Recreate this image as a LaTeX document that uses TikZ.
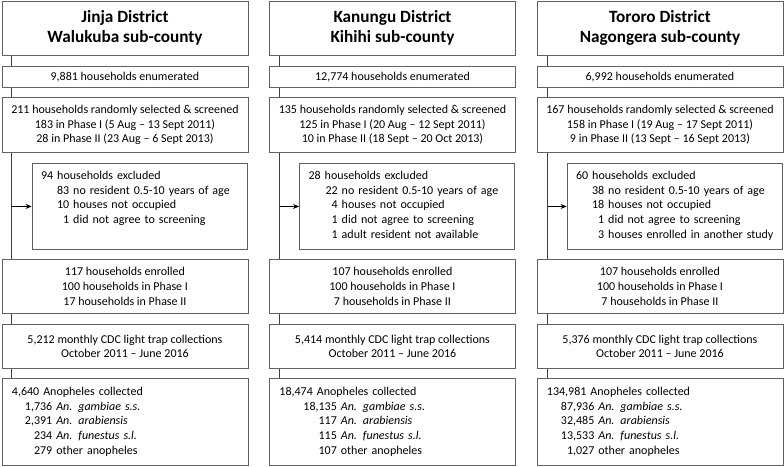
\documentclass[tikz,border=0pt]{standalone}
\usepackage{fontspec}
\setmainfont{Carlito}
\usetikzlibrary{positioning,arrows.meta,backgrounds}
\definecolor{boxLine}{gray}{0.38}

\begin{document}
\begin{tikzpicture}[x=1pt, y=-1pt,
  stepBox/.style={draw=boxLine, fill=white, line width=0.9pt, anchor=north west,
                  minimum width=246pt, inner sep=0pt, align=center,
                  font=\fontsize{12}{14.7}\selectfont},
  titleBox/.style={stepBox, minimum height=54pt,
                   font=\fontsize{17.2}{20}\selectfont\bfseries},
  listBox/.style={stepBox, text width=226pt, align=left, inner xsep=10pt,
                  text height=17pt, text depth=70pt},
  exclBox/.style={listBox, anchor=north east, minimum width=0pt,
                  text width=197pt, inner xsep=9pt, text height=16pt},
  flowLine/.style={draw=black!75, line width=0.9pt},
  >={Stealth[length=6pt, width=5pt]}
]
  \useasboundingbox (0,0) rectangle (784,466);

  % Column 1 -- Jinja
  \node[titleBox] (t1) at (1.5,0.5) {Jinja District\\Walukuba sub-county};
  \node[stepBox, minimum height=21pt] (e1) at (1.5,66) {9,881 households enumerated};
  \node[stepBox, minimum height=55pt] (s1) at (1.5,97)
    {211 households randomly selected \& screened\\
     183 in Phase I (5 Aug -- 13 Sept 2011)\\
     28 in Phase II (23 Aug -- 6 Sept 2013)};
  \node[exclBox] (x1) at (247.5,163) {%
    \begin{tabular}[t]{@{\hspace{16pt}}r@{ }l@{}}
      \multicolumn{2}{@{}l@{}}{94 households excluded}\\
      83 & no resident 0.5-10 years of age\\
      10 & houses not occupied\\
      1 & did not agree to screening
    \end{tabular}};
  \node[stepBox, minimum height=54pt] (r1) at (1.5,259)
    {117 households enrolled\\100 households in Phase I\\17 households in Phase II};
  \node[stepBox, minimum height=44pt] (c1) at (1.5,324)
    {5,212 monthly CDC light trap collections\\October 2011 -- June 2016};
  \node[listBox] (a1) at (1.5,378) {%
    \begin{tabular}[t]{@{\hspace{13pt}}r@{ }l@{}}
      \multicolumn{2}{@{}l@{}}{4,640 Anopheles collected}\\
      1,736 & \textit{An. gambiae s.s.}\\
      2,391 & \textit{An. arabiensis}\\
      234 & \textit{An. funestus s.l.}\\
      279 & other anopheles
    \end{tabular}};

  % Column 2 -- Kanungu
  \node[titleBox] (t2) at (269,0.5) {Kanungu District\\Kihihi sub-county};
  \node[stepBox, minimum height=21pt] (e2) at (269,66) {12,774 households enumerated};
  \node[stepBox, minimum height=55pt] (s2) at (269,97)
    {135 households randomly selected \& screened\\
     125 in Phase I (20 Aug -- 12 Sept 2011)\\
     10 in Phase II (18 Sept -- 20 Oct 2013)};
  \node[exclBox] (x2) at (515,163) {%
    \begin{tabular}[t]{@{\hspace{17pt}}r@{ }l@{}}
      \multicolumn{2}{@{}l@{}}{28 households excluded}\\
      22 & no resident 0.5-10 years of age\\
      4 & houses not occupied\\
      1 & did not agree to screening\\
      1 & adult resident not available
    \end{tabular}};
  \node[stepBox, minimum height=54pt] (r2) at (269,259)
    {107 households enrolled\\100 households in Phase I\\7 households in Phase II};
  \node[stepBox, minimum height=44pt] (c2) at (269,324)
    {5,414 monthly CDC light trap collections\\October 2011 -- June 2016};
  \node[listBox] (a2) at (269,378) {%
    \begin{tabular}[t]{@{\hspace{24pt}}r@{ }l@{}}
      \multicolumn{2}{@{}l@{}}{18,474 Anopheles collected}\\
      18,135 & \textit{An. gambiae s.s.}\\
      117 & \textit{An. arabiensis}\\
      115 & \textit{An. funestus s.l.}\\
      107 & other anopheles
    \end{tabular}};

  % Column 3 -- Tororo
  \node[titleBox] (t3) at (536.5,0.5) {Tororo District\\Nagongera sub-county};
  \node[stepBox, minimum height=21pt] (e3) at (536.5,66) {6,992 households enumerated};
  \node[stepBox, minimum height=55pt] (s3) at (536.5,97)
    {167 households randomly selected \& screened\\
     158 in Phase I (19 Aug -- 17 Sept 2011)\\
     9 in Phase II (13 Sept -- 16 Sept 2013)};
  \node[exclBox] (x3) at (782.5,163) {%
    \begin{tabular}[t]{@{\hspace{16pt}}r@{ }l@{}}
      \multicolumn{2}{@{}l@{}}{60 households excluded}\\
      38 & no resident 0.5-10 years of age\\
      18 & houses not occupied\\
      1 & did not agree to screening\\
      3 & houses enrolled in another study
    \end{tabular}};
  \node[stepBox, minimum height=54pt] (r3) at (536.5,259)
    {107 households enrolled\\100 households in Phase I\\7 households in Phase II};
  \node[stepBox, minimum height=44pt] (c3) at (536.5,324)
    {5,376 monthly CDC light trap collections\\October 2011 -- June 2016};
  \node[listBox] (a3) at (536.5,378) {%
    \begin{tabular}[t]{@{\hspace{14pt}}r@{ }l@{}}
      \multicolumn{2}{@{}l@{}}{134,981 Anopheles collected}\\
      87,936 & \textit{An. gambiae s.s.}\\
      32,485 & \textit{An. arabiensis}\\
      13,533 & \textit{An. funestus s.l.}\\
      1,027 & other anopheles
    \end{tabular}};

  % Flow lines behind the boxes, arrows to the exclusions
  \coordinate (l1) at ([xshift=9.5pt]t1.south west);
  \coordinate (l2) at ([xshift=10.7pt]t2.south west);
  \coordinate (l3) at ([xshift=11.2pt]t3.south west);
  \begin{scope}[on background layer]
    \foreach \i in {1,2,3}
      \draw[flowLine] (l\i) -- (l\i |- a\i.north);
  \end{scope}
  \foreach \i in {1,2,3}
    \draw[flowLine, draw=black, ->] (l\i |- x\i.west) -- (x\i.west);
\end{tikzpicture}
\end{document}
